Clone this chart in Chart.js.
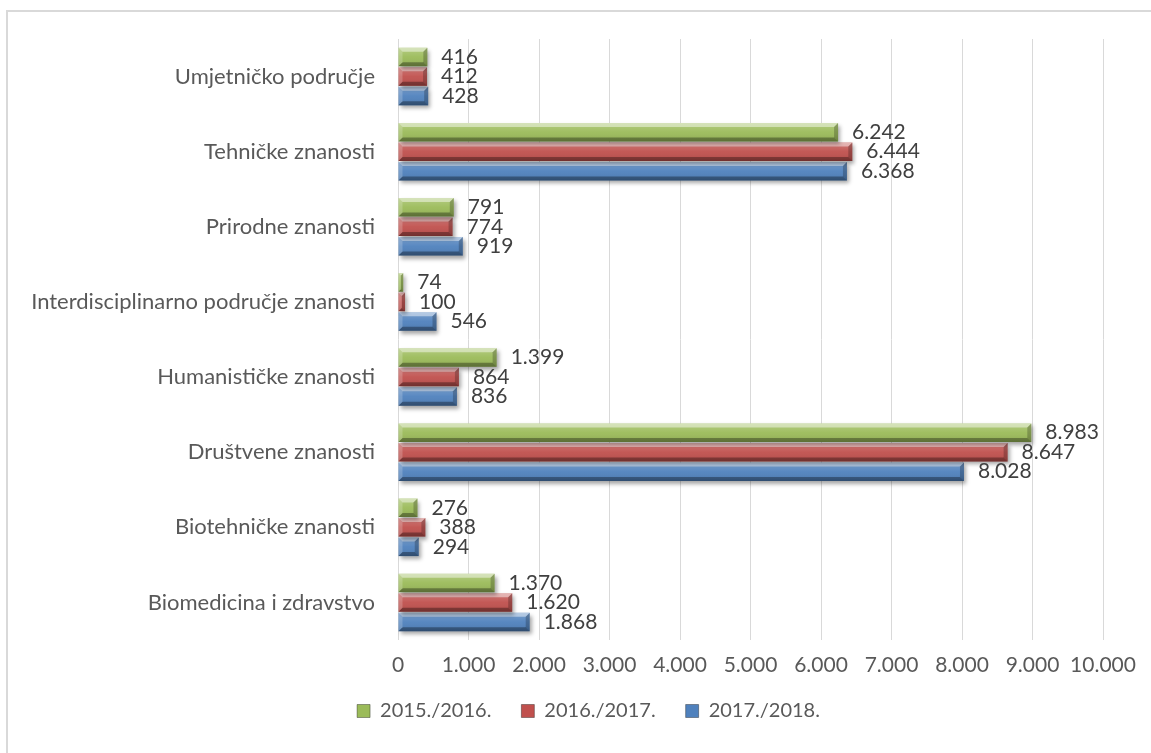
<!DOCTYPE html>
<html>
<head>
<meta charset="utf-8">
<script src="https://cdn.jsdelivr.net/npm/chart.js@4/dist/chart.umd.min.js"></script>
<style>
  html, body { margin: 0; padding: 0; background: #fff; overflow: hidden; }
  #wrap { position: relative; width: 1151px; height: 753px; }
  #frame { position: absolute; left: 6px; top: 10px; width: 1300px; height: 900px; border: 2px solid #d9d9d9; box-sizing: border-box; }
  canvas { position: absolute; left: 0; top: 0; }
</style>
</head>
<body>
<div id="wrap">
  <div id="frame"></div>
  <canvas id="c" width="1151" height="753"></canvas>
</div>
<script>
const categories = ['Umjetničko područje', 'Tehničke znanosti', 'Prirodne znanosti', 'Interdisciplinarno područje znanosti', 'Humanističke znanosti', 'Društvene znanosti', 'Biotehničke znanosti', 'Biomedicina i zdravstvo'];
const seriesNames = ['2015./2016.', '2016./2017.', '2017./2018.'];
const values2015 = [416, 6242, 791, 74, 1399, 8983, 276, 1370];
const values2016 = [412, 6444, 774, 100, 864, 8647, 388, 1620];
const values2017 = [428, 6368, 919, 546, 836, 8028, 294, 1868];
const xTicks = [0, 1000, 2000, 3000, 4000, 5000, 6000, 7000, 8000, 9000, 10000];

const colors = ['#9bbb59', '#c0504d', '#4f81bd'];
const FONT = 'Lato, "Open Sans", sans-serif';

function fmt(v) {
  return String(v).replace(/\B(?=(\d{3})+(?!\d))/g, '.');
}

const bevelPlugin = {
  id: 'bevel',
  beforeDatasetDraw(chart) {
    const ctx = chart.ctx;
    ctx.save();
    ctx.shadowColor = 'rgba(0,0,0,0.35)';
    ctx.shadowBlur = 4;
    ctx.shadowOffsetX = 2;
    ctx.shadowOffsetY = 3;
  },
  afterDatasetDraw(chart, args) {
    const ctx = chart.ctx;
    ctx.restore();
    const meta = args.meta;
    meta.data.forEach(el => {
      const p = el.getProps(['x', 'y', 'base', 'height'], true);
      const l = Math.min(p.base, p.x), r = Math.max(p.base, p.x);
      const t = p.y - p.height / 2, b = p.y + p.height / 2;
      const w = r - l;
      const bv = Math.min(4, w / 2, p.height / 3);
      ctx.save();
      const g = ctx.createLinearGradient(0, t, 0, b);
      g.addColorStop(0, 'rgba(255,255,255,0.25)');
      g.addColorStop(0.5, 'rgba(255,255,255,0.05)');
      g.addColorStop(1, 'rgba(0,0,0,0.12)');
      ctx.fillStyle = g;
      ctx.fillRect(l, t, w, p.height);
      ctx.fillStyle = 'rgba(255,255,255,0.45)';
      ctx.beginPath();
      ctx.moveTo(l, t); ctx.lineTo(r, t); ctx.lineTo(r - bv, t + bv); ctx.lineTo(l + bv, t + bv); ctx.closePath(); ctx.fill();
      ctx.fillStyle = 'rgba(0,0,0,0.32)';
      ctx.beginPath();
      ctx.moveTo(l, b); ctx.lineTo(r, b); ctx.lineTo(r - bv, b - bv); ctx.lineTo(l + bv, b - bv); ctx.closePath(); ctx.fill();
      ctx.fillStyle = 'rgba(0,0,0,0.22)';
      ctx.beginPath();
      ctx.moveTo(r, t); ctx.lineTo(r, b); ctx.lineTo(r - bv, b - bv); ctx.lineTo(r - bv, t + bv); ctx.closePath(); ctx.fill();
      ctx.fillStyle = 'rgba(255,255,255,0.2)';
      ctx.beginPath();
      ctx.moveTo(l, t); ctx.lineTo(l, b); ctx.lineTo(l + bv, b - bv); ctx.lineTo(l + bv, t + bv); ctx.closePath(); ctx.fill();
      ctx.restore();
    });
  }
};

const labelPlugin = {
  id: 'valueLabels',
  afterDatasetsDraw(chart) {
    const ctx = chart.ctx;
    ctx.save();
    ctx.font = '21px ' + FONT;
    ctx.fillStyle = '#404040';
    ctx.textAlign = 'left';
    ctx.textBaseline = 'middle';
    chart.data.datasets.forEach((ds, i) => {
      const meta = chart.getDatasetMeta(i);
      meta.data.forEach((el, j) => {
        const p = el.getProps(['x', 'y'], true);
        ctx.fillText(fmt(ds.data[j]), p.x + 14, p.y);
      });
    });
    ctx.restore();
  }
};

const legendShift = {
  id: 'legendShift',
  afterLayout(chart) {
    const lg = chart.legend;
    if (lg) {
      lg.left += 37;
      lg.right += 37;
      lg.top -= 26;
    }
  }
};

const datasets = [values2015, values2016, values2017].map((vals, i) => ({
  label: seriesNames[i],
  data: vals,
  backgroundColor: colors[i],
  borderWidth: 0,
  categoryPercentage: 0.78,
  barPercentage: 0.95
}));

new Chart(document.getElementById('c'), {
  type: 'bar',
  data: { labels: categories, datasets },
  plugins: [bevelPlugin, labelPlugin, legendShift],
  options: {
    indexAxis: 'y',
    responsive: false,
    animation: false,
    layout: { padding: { top: 39, right: 48, bottom: 16, left: 0 } },
    scales: {
      x: {
        min: 0, max: 10000,
        afterBuildTicks(scale) { scale.ticks = xTicks.map(v => ({ value: v })); },
        afterFit(scale) { scale.height = 57; },
        grid: { color: '#d9d9d9', lineWidth: 1, drawTicks: false },
        border: { display: false },
        ticks: {
          padding: 13,
          color: '#595959',
          maxRotation: 0,
          minRotation: 0,
          autoSkip: false,
          font: { family: FONT, size: 21 },
          callback: v => fmt(v)
        }
      },
      y: {
        afterFit(scale) { scale.width = 398; },
        grid: { display: false, drawTicks: false },
        border: { display: false },
        ticks: {
          padding: 23,
          color: '#595959',
          font: { family: FONT, size: 22 }
        }
      }
    },
    plugins: {
      legend: {
        display: true,
        position: 'bottom',
        maxHeight: 40,
        labels: {
          color: '#595959',
          font: { family: FONT, size: 20 },
          boxWidth: 13,
          boxHeight: 13,
          padding: 30,
          generateLabels(chart) {
            return chart.data.datasets.map((ds, i) => ({
              text: ds.label,
              fillStyle: colors[i],
              strokeStyle: 'rgba(0,0,0,0.35)',
              lineWidth: 1,
              fontColor: '#595959',
              datasetIndex: i,
              hidden: false
            }));
          }
        }
      },
      tooltip: { enabled: false }
    }
  }
});
</script>
</body>
</html>
